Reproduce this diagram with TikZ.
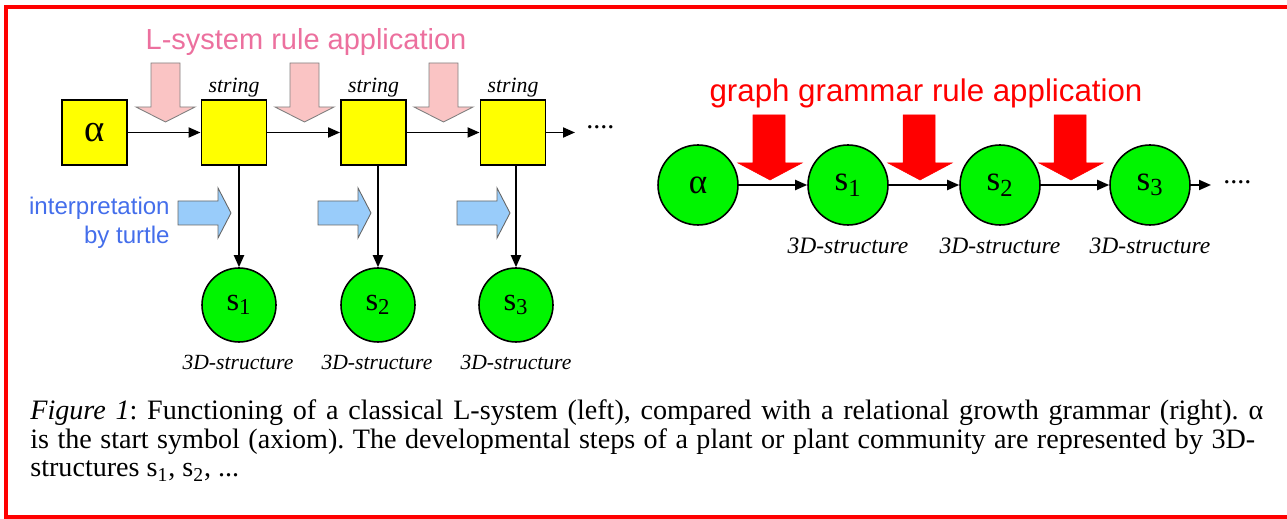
\documentclass[tikz,border=0pt]{standalone}
\usepackage{fontspec}
\setmainfont{Liberation Serif}
\setsansfont{Liberation Sans}
\usetikzlibrary{arrows.meta}

\definecolor{boxyellow}{RGB}{255,255,0}
\definecolor{nodegreen}{RGB}{0,245,0}
\definecolor{rulepink}{RGB}{250,196,196}
\definecolor{titlepink}{RGB}{236,112,158}
\definecolor{turtleblue}{RGB}{153,204,250}
\definecolor{textblue}{RGB}{68,110,235}

\tikzset{
  strbox/.style={draw, line width=1.1pt, fill=boxyellow, minimum size=1.3cm, inner sep=0pt, font=\fontsize{22}{22}\selectfont},
  snode/.style={circle, draw, line width=0.9pt, fill=nodegreen, minimum size=1.48cm, inner sep=0pt, font=\fontsize{18.5}{18}\selectfont},
  gnode/.style={circle, draw, line width=0.9pt, fill=nodegreen, minimum size=1.6cm, inner sep=0pt, font=\fontsize{20}{20}\selectfont},
  arr/.style={line width=1.1pt, -{Triangle[length=0.24cm, width=0.2cm]}},
  pinkarrow/.style={draw=gray, line width=0.5pt, fill=rulepink},
  bluearrow/.style={draw=gray!80!black, line width=0.5pt, fill=turtleblue},
  redarrow/.style={draw=red, line width=0.3pt, fill=red},
  strlabel/.style={font=\itshape\fontsize{12.4}{14}\selectfont, inner sep=1pt},
  structlbl/.style={font=\itshape\fontsize{12.3}{14}\selectfont, inner sep=0pt},
  dots/.style={inner sep=0pt, font=\fontsize{16}{16}\selectfont},
  caption/.style={anchor=base west, inner sep=0pt, font=\frenchspacing\fontsize{16}{17}\selectfont}
}

\begin{document}
\begin{tikzpicture}[x=0.02cm, y=-0.02cm]
        \useasboundingbox (0,0) rectangle (1287,519);

        %Frame
        \draw [red, line width=2.3pt] (6,7) rectangle (1295,517);

        %L-system
        \node [font=\sffamily\fontsize{16.5}{18}\selectfont, text=titlepink] (ltitle) at (306,42) {L-system rule application};
        \node [strbox] (a0) at (94.5,132.5) {α};
        \node [strbox] (b1) at (234,132.5) {};
        \node [strbox] (b2) at (373.5,132.5) {};
        \node [strbox] (b3) at (513,132.5) {};
        \node [dots, anchor=west] (ldots) at (586,127) {....};
        \node [strlabel, anchor=south] (st1) at (b1.north) {string};
        \node [strlabel, anchor=south] (st2) at (b2.north) {string};
        \node [strlabel, anchor=south] (st3) at (b3.north) {string};
        \draw [arr] (a0) -- (b1);
        \draw [arr] (b1) -- (b2);
        \draw [arr] (b2) -- (b3);
        \draw [arr] (b3.east) -- (575,132.5);

        %Rule arrows
        \draw [pinkarrow] (151,63) -- (180,63) -- (180,107) -- (195,107) -- (165.5,122) -- (136,107) -- (151,107) -- cycle;
        \draw [pinkarrow, shift={(139,0)}] (151,63) -- (180,63) -- (180,107) -- (195,107) -- (165.5,122) -- (136,107) -- (151,107) -- cycle;
        \draw [pinkarrow, shift={(278,0)}] (151,63) -- (180,63) -- (180,107) -- (195,107) -- (165.5,122) -- (136,107) -- (151,107) -- cycle;

        %Structures
        \node [snode] (s1) at (239,305) {s\textsubscript{1}};
        \node [snode] (s2) at (378,305) {s\textsubscript{2}};
        \node [snode] (s3) at (516,305) {s\textsubscript{3}};
        \node [structlbl] (sl1) at (238,362) {3D-structure};
        \node [structlbl] (sl2) at (377,362) {3D-structure};
        \node [structlbl] (sl3) at (516,362) {3D-structure};
        \draw [arr] (s1 |- b1.south) -- (s1);
        \draw [arr] (s2 |- b2.south) -- (s2);
        \draw [arr] (s3 |- b3.south) -- (s3);

        %Turtle
        \node [anchor=east, align=right, inner sep=0pt, text=textblue, font=\sffamily\fontsize{13.7}{16.5}\selectfont] (interp) at (170,223) {interpretation\\by turtle};
        \draw [bluearrow] (178,201) -- (218,201) -- (218,188) -- (231,213) -- (218,238) -- (218,225) -- (178,225) -- cycle;
        \draw [bluearrow, shift={(140,0)}] (178,201) -- (218,201) -- (218,188) -- (231,213) -- (218,238) -- (218,225) -- (178,225) -- cycle;
        \draw [bluearrow, shift={(279,0)}] (178,201) -- (218,201) -- (218,188) -- (231,213) -- (218,238) -- (218,225) -- (178,225) -- cycle;

        %Graph grammar
        \node [font=\sffamily\fontsize{17.8}{20}\selectfont, text=red] (gtitle) at (926,93) {graph grammar rule application};
        \draw [redarrow] (753,115) -- (785,115) -- (785,163) -- (802,163) -- (770,180) -- (738,163) -- (753,163) -- cycle;
        \draw [redarrow, shift={(150,0)}] (753,115) -- (785,115) -- (785,163) -- (802,163) -- (770,180) -- (738,163) -- (753,163) -- cycle;
        \draw [redarrow, shift={(301,0)}] (753,115) -- (785,115) -- (785,163) -- (802,163) -- (770,180) -- (738,163) -- (753,163) -- cycle;
        \node [gnode] (g0) at (698,185) {α};
        \node [gnode] (g1) at (848,185) {s\textsubscript{1}};
        \node [gnode] (g2) at (1000,185) {s\textsubscript{2}};
        \node [gnode] (g3) at (1150,185) {s\textsubscript{3}};
        \node [dots, anchor=west] (rdots) at (1223,182) {....};
        \node [structlbl, font=\itshape\fontsize{13.4}{15}\selectfont] (gl1) at (848,246) {3D-structure};
        \node [structlbl, font=\itshape\fontsize{13.4}{15}\selectfont] (gl2) at (1000,246) {3D-structure};
        \node [structlbl, font=\itshape\fontsize{13.4}{15}\selectfont] (gl3) at (1150,246) {3D-structure};
        \draw [arr] (g0) -- (g1);
        \draw [arr] (g1) -- (g2);
        \draw [arr] (g2) -- (g3);
        \draw [arr] (g3.east) -- (1211,185);

        %Caption
        \node [caption] (cap1) at (30,420) {\makebox[24.66cm][s]{\textit{Figure 1}: Functioning of a classical L-system (left), compared with a relational growth grammar (right). α}};
        \node [caption] (cap2) at (30,448.5) {\makebox[24.5cm][s]{is the start symbol (axiom). The developmental steps of a plant or plant community are represented by 3D-}};
        \node [caption] (cap3) at (30,477) {structures s\textsubscript{1}, s\textsubscript{2}, ...};

\end{tikzpicture}
\end{document}
